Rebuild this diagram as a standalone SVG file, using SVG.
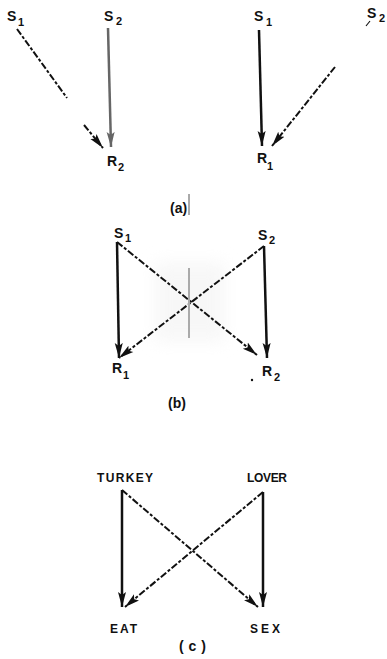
<svg xmlns="http://www.w3.org/2000/svg" width="387" height="659" viewBox="0 0 387 659">
<defs>
<marker id="ah" markerWidth="16" markerHeight="10" refX="15" refY="5" orient="auto" markerUnits="userSpaceOnUse"><path d="M0,1 L15,5 L0,9 L3,5 Z" fill="#111"/></marker>
<marker id="ahg" markerWidth="16" markerHeight="10" refX="15" refY="5" orient="auto" markerUnits="userSpaceOnUse"><path d="M0,1 L15,5 L0,9 L3,5 Z" fill="#666"/></marker>
<filter id="blur" x="-20%" y="-20%" width="140%" height="140%"><feGaussianBlur stdDeviation="8"/></filter>
</defs>
<style>
.t{font-family:"Liberation Sans",Arial,sans-serif;font-weight:bold;font-size:14px;fill:#111}
.s{font-family:"Liberation Sans",Arial,sans-serif;font-weight:bold;font-size:11px;fill:#111}
.w{font-family:"Liberation Sans",Arial,sans-serif;font-weight:bold;font-size:12px;fill:#111}
.sol{stroke:#111;stroke-width:2.5;fill:none}
.das{stroke:#111;stroke-width:2;fill:none;stroke-dasharray:7 2 3 2}
</style>
<rect width="387" height="659" fill="#fff"/>
<rect x="155" y="262" width="70" height="80" fill="#f0f0f0" opacity="0.5" filter="url(#blur)"/>
<g id="connectors">
<line x1="108" y1="28" x2="111" y2="147" stroke="#666" stroke-width="2.5" marker-end="url(#ahg)"/>
<line class="das" x1="17" y1="29" x2="67" y2="98"/>
<line class="das" x1="84" y1="125" x2="103" y2="148" marker-end="url(#ah)"/>
<line class="sol" x1="259" y1="30" x2="262" y2="146" marker-end="url(#ah)"/>
<line stroke="#111" stroke-width="1.2" x1="366" y1="26" x2="370" y2="21"/>
<line class="das" x1="335" y1="67" x2="272" y2="146" marker-end="url(#ah)"/>
<line stroke="#555" stroke-width="1" x1="189" y1="194" x2="189" y2="215"/>
<line class="sol" x1="117" y1="242" x2="119" y2="358" marker-end="url(#ah)"/>
<line class="das" x1="117" y1="242" x2="257" y2="355" marker-end="url(#ah)"/>
<line class="sol" x1="264" y1="246" x2="267" y2="358" marker-end="url(#ah)"/>
<line class="das" x1="264" y1="246" x2="119" y2="358" marker-end="url(#ah)"/>
<line stroke="#aaa" stroke-width="2" x1="189" y1="268" x2="189" y2="338"/>
<circle cx="252" cy="380" r="1.2" fill="#111"/>
<line class="sol" x1="122" y1="490" x2="122" y2="607" marker-end="url(#ah)"/>
<line class="das" x1="122" y1="490" x2="258" y2="607" marker-end="url(#ah)"/>
<line class="sol" x1="263" y1="492" x2="263" y2="607" marker-end="url(#ah)"/>
<line class="das" x1="263" y1="492" x2="125" y2="607" marker-end="url(#ah)"/>
</g>
<g id="a-left-S1"><text class="t" x="7" y="21">S</text><text class="s" x="18" y="26">1</text></g>
<g id="a-left-S2"><text class="t" x="104" y="21">S</text><text class="s" x="116" y="25">2</text></g>
<g id="a-left-R2"><text class="t" x="107" y="166">R</text><text class="s" x="118" y="171">2</text></g>
<g id="a-right-S1"><text class="t" x="254" y="21">S</text><text class="s" x="266" y="26">1</text></g>
<g id="a-right-S2"><text class="t" x="367" y="18">S</text><text class="s" x="379" y="22">2</text></g>
<g id="a-right-R1"><text class="t" x="257" y="163">R</text><text class="s" x="267" y="170">1</text></g>
<g id="label-a"><text class="t" x="170" y="213">(a)</text></g>
<g id="b-S1"><text class="t" x="114" y="238">S</text><text class="s" x="125" y="242">1</text></g>
<g id="b-S2"><text class="t" x="258" y="240">S</text><text class="s" x="269" y="244">2</text></g>
<g id="b-R1"><text class="t" x="112" y="373">R</text><text class="s" x="123" y="379">1</text></g>
<g id="b-R2"><text class="t" x="262" y="376">R</text><text class="s" x="274" y="381">2</text></g>
<g id="label-b"><text class="t" x="168" y="408">(b)</text></g>
<g id="c-TURKEY"><text class="w" x="97" y="482" textLength="56">TURKEY</text></g>
<g id="c-LOVER"><text class="w" x="247" y="482" textLength="40">LOVER</text></g>
<g id="c-EAT"><text class="w" x="110" y="633" textLength="27">EAT</text></g>
<g id="c-SEX"><text class="w" x="250" y="633" textLength="30">SEX</text></g>
<g id="label-c"><text class="t" x="179" y="651" textLength="27">(c)</text></g>
</svg>
